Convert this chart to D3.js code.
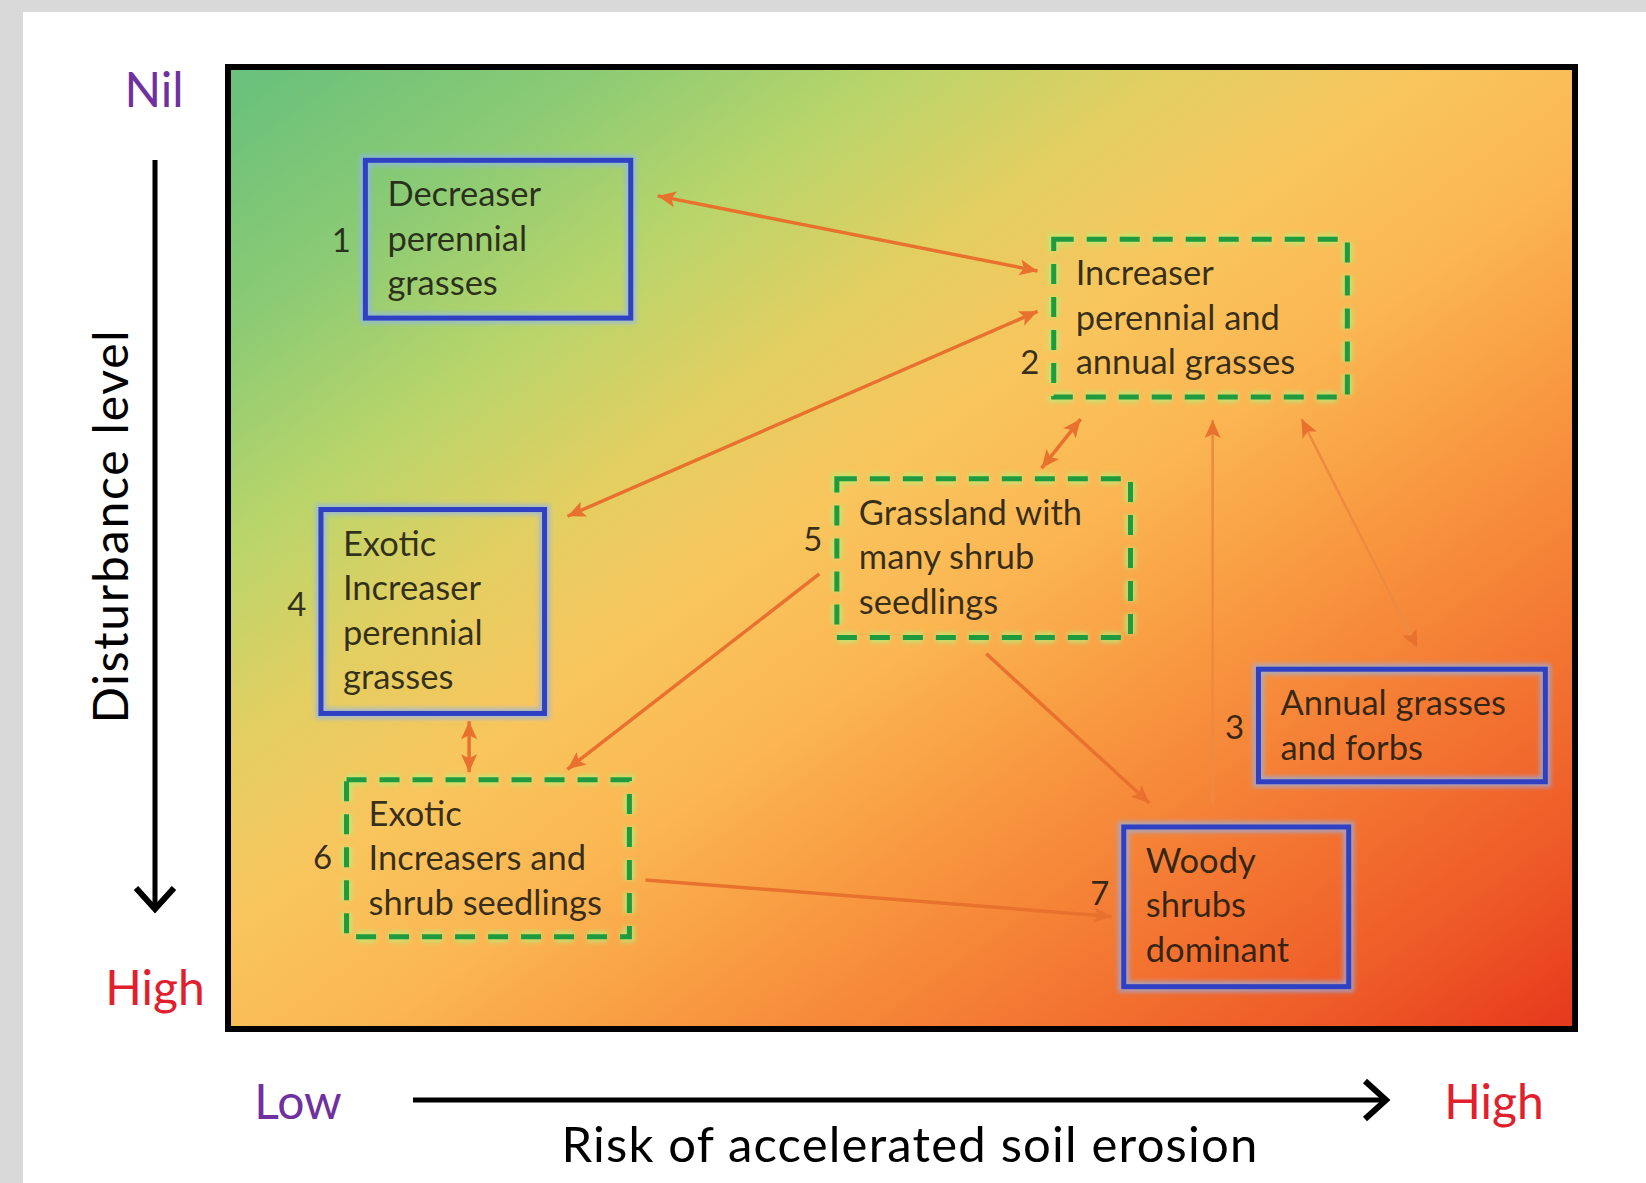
<!DOCTYPE html>
<html>
<head>
<meta charset="utf-8">
<script src="https://cdnjs.cloudflare.com/ajax/libs/d3/7.8.5/d3.min.js"></script>
<style>
  body { margin: 0; background: #d9d9d9; }
  svg { display: block; }
  text { font-family: Lato, "Open Sans", sans-serif; }
</style>
</head>
<body>
<div id="chart"></div>
<script>
var width = 1646;
var height = 1183;

// States, placed in % of the plot (x = erosion risk, y = disturbance level)
var stateIds = [1, 2, 3, 4, 5, 6, 7];
var stateLines = [
  ["Decreaser", "perennial", "grasses"],
  ["Increaser", "perennial and", "annual grasses"],
  ["Annual grasses", "and forbs"],
  ["Exotic", "Increaser", "perennial", "grasses"],
  ["Grassland with", "many shrub", "seedlings"],
  ["Exotic", "Increasers and", "shrub seedlings"],
  ["Woody", "shrubs", "dominant"]
];
var stateBorder = ["solid", "dashed", "solid", "solid", "dashed", "dashed", "solid"];
var stateX = [[10.2, 29.9], [61.3, 83.1], [76.5, 97.8], [6.9, 23.5], [45.2, 67.0], [8.8, 29.8], [66.5, 83.2]];
var stateY = [[9.7, 26.1], [17.9, 34.3], [62.6, 74.3], [46.0, 67.2], [42.8, 59.3], [74.1, 90.4], [79.0, 95.6]];
var numberY = [18.0, 30.7, 68.7, 55.9, 49.1, 82.2, 85.9];

// Transitions between states
var arrowFrom = [[31.9, 13.4], [25.2, 46.7], [60.4, 41.7], [73.1, 76.8], [79.7, 36.6], [17.9, 68.0], [43.9, 52.7], [56.3, 61.0], [31.0, 84.5]];
var arrowTo = [[60.1, 21.2], [60.1, 25.4], [63.3, 36.6], [73.1, 36.7], [88.3, 60.4], [17.9, 73.3], [25.2, 73.0], [68.4, 76.5], [65.6, 88.3]];
var arrowBoth = [true, true, true, false, true, true, false, false, false];

// Axis labels
var yLabels = ["Nil", "High"];
var xLabels = ["Low", "High"];
var yTitle = "Disturbance level";
var xTitle = "Risk of accelerated soil erosion";

var xScale = d3.scaleLinear().domain([0, 100]).range([228, 1575]);
var yScale = d3.scaleLinear().domain([0, 100]).range([67, 1029]);

var svg = d3.select("#chart").append("svg")
  .attr("width", width)
  .attr("height", height);

// white panel on grey page
svg.append("rect").attr("x", 0).attr("y", 0).attr("width", width).attr("height", height).attr("fill", "#d9d9d9");
svg.append("rect").attr("x", 23).attr("y", 12).attr("width", width - 23).attr("height", height - 12).attr("fill", "#ffffff");

var defs = svg.append("defs");

var grad = defs.append("linearGradient")
  .attr("id", "bg")
  .attr("x1", 0).attr("y1", 0).attr("x2", 1).attr("y2", 1);
var stops = [[0, "#66c07c"], [0.14, "#8ccb74"], [0.25, "#b9d56a"], [0.35, "#e2cf62"], [0.45, "#f9c55d"],
             [0.55, "#fbb652"], [0.67, "#f8963f"], [0.8, "#f37431"], [0.9, "#ee5a27"], [1, "#e6381d"]];
stops.forEach(function (s) {
  grad.append("stop").attr("offset", s[0]).attr("stop-color", s[1]);
});

defs.append("filter").attr("id", "glow")
  .attr("x", "-10%").attr("y", "-10%").attr("width", "120%").attr("height", "120%")
  .append("feGaussianBlur").attr("stdDeviation", 2);

defs.append("marker")
  .attr("id", "head")
  .attr("markerUnits", "userSpaceOnUse")
  .attr("viewBox", "-20 -10 22 20")
  .attr("markerWidth", 22).attr("markerHeight", 20)
  .attr("refX", 0).attr("refY", 0)
  .attr("orient", "auto-start-reverse")
  .append("path")
  .attr("d", "M0,0 L-18,-8 L-14,0 L-18,8 Z")
  .attr("fill", "#e8722d");

// plot background
svg.append("rect")
  .attr("x", xScale(0)).attr("y", yScale(0))
  .attr("width", xScale(100) - xScale(0))
  .attr("height", yScale(100) - yScale(0))
  .attr("fill", "url(#bg)");

// arrows
var thin = [3, 4];
var arrows = svg.append("g");
arrowFrom.forEach(function (p, i) {
  var q = arrowTo[i];
  arrows.append("line")
    .attr("x1", xScale(p[0])).attr("y1", yScale(p[1]))
    .attr("x2", xScale(q[0])).attr("y2", yScale(q[1]))
    .attr("stroke", thin.indexOf(i) >= 0 ? "#ee8a40" : "#e8722d")
    .attr("stroke-width", thin.indexOf(i) >= 0 ? 2.5 : 3.5)
    .attr("marker-end", "url(#head)")
    .attr("marker-start", arrowBoth[i] ? "url(#head)" : null);
});

// state boxes
var boxes = svg.append("g");
stateIds.forEach(function (id, i) {
  var x0 = xScale(stateX[i][0]), x1 = xScale(stateX[i][1]);
  var y0 = yScale(stateY[i][0]), y1 = yScale(stateY[i][1]);
  var dashed = stateBorder[i] == "dashed";
  var g = boxes.append("g");

  g.append("rect")
    .attr("x", x0).attr("y", y0).attr("width", x1 - x0).attr("height", y1 - y0)
    .attr("fill", "none")
    .attr("stroke", dashed ? "#b4f07a" : "#8fb4f0")
    .attr("stroke-width", 11)
    .attr("stroke-dasharray", dashed ? "20 13" : null)
    .attr("opacity", 0.7)
    .attr("filter", "url(#glow)");

  g.append("rect")
    .attr("x", x0).attr("y", y0).attr("width", x1 - x0).attr("height", y1 - y0)
    .attr("fill", "none")
    .attr("stroke", dashed ? "#1f9a3e" : "#2f41c2")
    .attr("stroke-width", 5)
    .attr("stroke-dasharray", dashed ? "20 13" : null);

  stateLines[i].forEach(function (line, k) {
    g.append("text")
      .attr("x", x0 + 22)
      .attr("y", y0 + 46 + k * 44.5)
      .attr("font-size", "34.5px")
      .attr("fill", "#1c1a10")
      .attr("fill-opacity", 0.88)
      .text(line);
  });

  g.append("text")
    .attr("x", x0 - 24)
    .attr("y", yScale(numberY[i]))
    .attr("dy", "0.35em")
    .attr("text-anchor", "middle")
    .attr("font-size", "33px")
    .attr("fill", "#1c1a10")
    .attr("fill-opacity", 0.88)
    .text(id);
});

// plot frame
svg.append("rect")
  .attr("x", xScale(0)).attr("y", yScale(0))
  .attr("width", xScale(100) - xScale(0))
  .attr("height", yScale(100) - yScale(0))
  .attr("fill", "none")
  .attr("stroke", "#000")
  .attr("stroke-width", 6);

// vertical axis: disturbance
svg.append("text").attr("x", 154).attr("y", 107).attr("text-anchor", "middle")
  .attr("font-size", "48px").attr("fill", "#7030a0").text(yLabels[0]);
svg.append("text").attr("x", 155).attr("y", 1005).attr("text-anchor", "middle")
  .attr("font-size", "48px").attr("fill", "#e0212d").text(yLabels[1]);

svg.append("line").attr("x1", 155).attr("y1", 160).attr("x2", 155).attr("y2", 909)
  .attr("stroke", "#000").attr("stroke-width", 5);
svg.append("path").attr("d", "M136,888 L155,909 L174,888")
  .attr("fill", "none").attr("stroke", "#000").attr("stroke-width", 6);

svg.append("text")
  .attr("transform", "translate(128,526) rotate(-90)")
  .attr("text-anchor", "middle")
  .attr("font-size", "48px")
  .attr("letter-spacing", "1.8px")
  .attr("fill", "#000")
  .text(yTitle);

// horizontal axis: erosion risk
svg.append("text").attr("x", 298).attr("y", 1119).attr("text-anchor", "middle")
  .attr("font-size", "48px").attr("fill", "#7030a0").text(xLabels[0]);
svg.append("text").attr("x", 1494).attr("y", 1119).attr("text-anchor", "middle")
  .attr("font-size", "48px").attr("fill", "#e0212d").text(xLabels[1]);

svg.append("line").attr("x1", 413).attr("y1", 1100).attr("x2", 1386).attr("y2", 1100)
  .attr("stroke", "#000").attr("stroke-width", 5);
svg.append("path").attr("d", "M1365,1081 L1386,1100 L1365,1119")
  .attr("fill", "none").attr("stroke", "#000").attr("stroke-width", 6);

svg.append("text")
  .attr("x", 910).attr("y", 1162)
  .attr("text-anchor", "middle")
  .attr("font-size", "49px")
  .attr("letter-spacing", "1.2px")
  .attr("fill", "#000")
  .text(xTitle);
</script>
</body>
</html>
